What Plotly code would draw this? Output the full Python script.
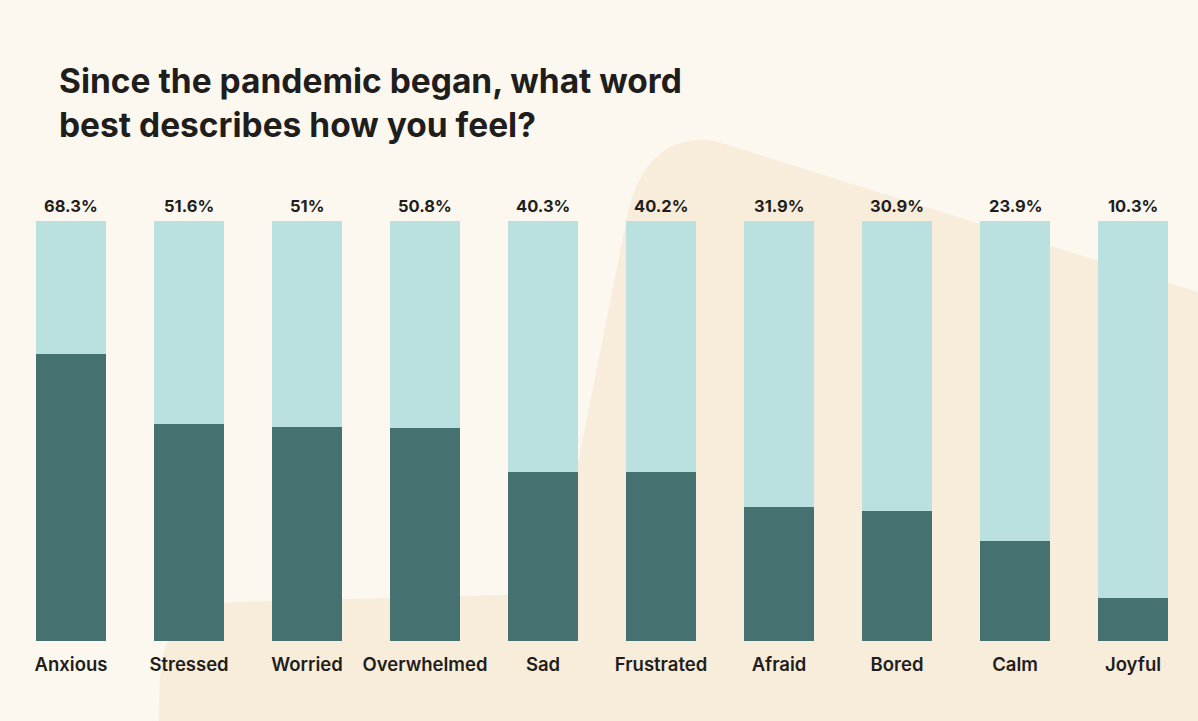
import plotly.graph_objects as go

categories = ["Anxious", "Stressed", "Worried", "Overwhelmed", "Sad",
              "Frustrated", "Afraid", "Bored", "Calm", "Joyful"]
values = [68.3, 51.6, 51.0, 50.8, 40.3, 40.2, 31.9, 30.9, 23.9, 10.3]
remainder = [round(100 - v, 1) for v in values]
value_labels = [f"{v:g}%" for v in values]

W, H = 1198, 721
ML, MR, MT, MB = 12, 6, 221, 80
BG = "#FCF8F0"
BLOB = "#F8EDDA"
LIGHT = "#BAE0E0"
DARK = "#457270"
TEXT = "#1F1E1C"
FONT = "Inter"


def px(x, y):
    return ((x - ML) / (W - ML - MR), (H - MB - y) / (H - MT - MB))


def path(cmds):
    out = []
    for c in cmds:
        if isinstance(c, str):
            out.append(c)
        else:
            x, y = px(*c)
            out.append(f"{x:.5f},{y:.5f}")
    return " ".join(out)


blob = path(["M", (158, 740), "L", (160, 680),
             "C", (162, 630), (185, 603), (235, 602),
             "L", (540, 594),
             "C", (552, 594), (553, 585), (555, 578),
             "L", (628, 212),
             "C", (640, 160), (670, 140), (700, 140),
             "C", (712, 140), (720, 142), (728, 145),
             "L", (1230, 302), "L", (1230, 740), "Z"])

fig = go.Figure()
fig.add_trace(go.Bar(x=categories, y=values, marker=dict(color=DARK, line=dict(width=0)),
                     hoverinfo="skip"))
fig.add_trace(go.Bar(x=categories, y=remainder, marker=dict(color=LIGHT, line=dict(width=0)),
                     hoverinfo="skip"))

for c, lab in zip(categories, value_labels):
    fig.add_annotation(x=c, y=100, xref="x", yref="y", text=lab, showarrow=False,
                       yanchor="bottom", yshift=3,
                       font=dict(family=FONT, size=16.5, color=TEXT, weight=700))

tx, ty = px(57, 59)
fig.add_annotation(x=tx, y=ty, xref="paper", yref="paper", xanchor="left", yanchor="top",
                   align="left", showarrow=False,
                   text="Since the pandemic began, what word<br>best describes how you feel?",
                   font=dict(family=FONT, size=33.5, color=TEXT, weight=700))

fig.update_layout(
    width=W, height=H,
    margin=dict(l=ML, r=MR, t=MT, b=MB, pad=0),
    paper_bgcolor=BG, plot_bgcolor="rgba(0,0,0,0)",
    barmode="stack", bargap=0.407, showlegend=False,
    shapes=[dict(type="path", path=blob, xref="paper", yref="paper",
                 fillcolor=BLOB, line=dict(width=0), layer="below")],
    xaxis=dict(range=[-0.5, 9.5], showgrid=False, zeroline=False, showline=False,
               fixedrange=True,
               ticks="outside", ticklen=0, tickcolor="rgba(0,0,0,0)",
               ticklabelstandoff=7,
               tickfont=dict(family=FONT, size=18.5, color=TEXT, weight=600)),
    yaxis=dict(range=[0, 100], visible=False, fixedrange=True),
)

fig.write_html("out.html", config={"displayModeBar": False},
               post_script="document.body.style.margin='0';document.body.style.overflow='hidden';")
